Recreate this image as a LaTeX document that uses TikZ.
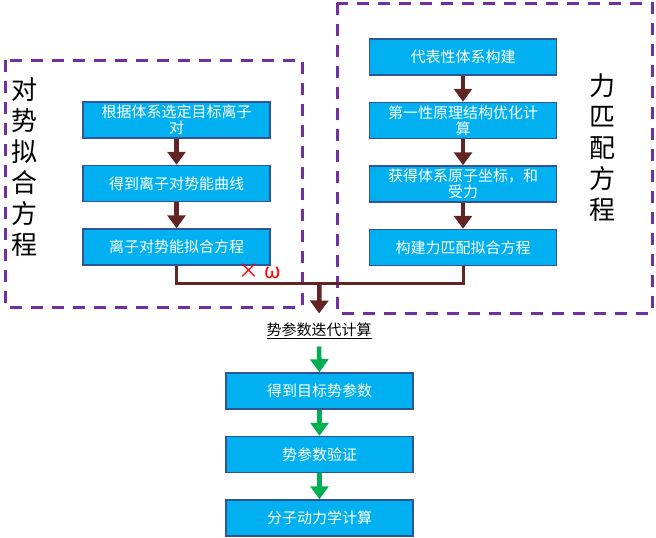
\documentclass[tikz,border=0pt]{standalone}
\usepackage{fontspec}
\setmainfont{Noto Sans CJK SC}
\usetikzlibrary{positioning,arrows.meta}
\definecolor{BoxCyan}{HTML}{00B0F0}
\definecolor{BoxEdge}{HTML}{2F5597}
\definecolor{FlowBrown}{HTML}{632523}
\definecolor{FlowGreen}{HTML}{00B050}
\definecolor{FramePurple}{HTML}{7030A0}

\begin{document}
\begin{tikzpicture}[x=1pt,y=-1pt,
                    stepbox/.style={draw=BoxEdge, line width=1.5pt, fill=BoxCyan, text=white,
                                    align=center, minimum width=187pt, minimum height=36pt,
                                    inner sep=1pt, font=\fontsize{15}{16}\selectfont},
                    frame/.style={draw=FramePurple, line width=3pt, dash pattern=on 12pt off 9pt},
                    brownline/.style={draw=FlowBrown, line width=3pt},
                    brownarrow/.style={draw=FlowBrown, line width=4.5pt,
                                       -{Triangle[width=18pt,length=13pt]}},
                    greenarrow/.style={draw=FlowGreen, line width=4.5pt,
                                       -{Triangle[width=18pt,length=13pt]}},
                    sidelabel/.style={align=center, font=\fontsize{26}{31}\selectfont}]
\useasboundingbox (0,0) rectangle (656,538);
% dashed frames
\draw[frame] (5,60) rectangle (302,307);
\draw[frame] (337,3) rectangle (652,313);
\node[sidelabel] (pairlabel) at (25,167) {对\\势\\拟\\合\\方\\程};
\node[sidelabel] (forcelabel) at (602,148) {力\\匹\\配\\方\\程};
% left column
\node[stepbox] (l1) at (176.5,120) {根据体系选定目标离子\\对};
\node[stepbox, below=26pt of l1] (l2) {得到离子对势能曲线};
\node[stepbox, below=26pt of l2] (l3) {离子对势能拟合方程};
% right column
\node[stepbox] (r1) at (463,57) {代表性体系构建};
\node[stepbox, below=26pt of r1] (r2) {第一性原理结构优化计\\算};
\node[stepbox, below=26pt of r2] (r3) {获得体系原子坐标，和\\受力};
\node[stepbox, below=26pt of r3] (r4) {构建力匹配拟合方程};
% bottom column
\node (iter) at (319,331) {\fontsize{15}{16}\selectfont\underline{势参数迭代计算}};
\node[stepbox] (b1) at (319.5,391) {得到目标势参数};
\node[stepbox, below=26pt of b1] (b2) {势参数验证};
\node[stepbox, below=26pt of b2] (b3) {分子动力学计算};
\node[text=red, font=\fontsize{21}{21}\selectfont] (weight) at (260,271) {×\hspace{5pt}ω};
% connectors
\coordinate (join) at (319.5,283);
\foreach \a/\b in {l1/l2,l2/l3,r1/r2,r2/r3,r3/r4}
  \draw[brownarrow] (\a.south) -- (\b.north);
\draw[brownline] (l3.south) |- (join) -| (r4.south);
\draw[brownarrow, shorten >=6pt] (join) -- (iter.north);
\draw[greenarrow, shorten <=4pt] (iter.south) -- (b1.north);
\draw[greenarrow] (b1.south) -- (b2.north);
\draw[greenarrow] (b2.south) -- (b3.north);
\end{tikzpicture}
\end{document}
